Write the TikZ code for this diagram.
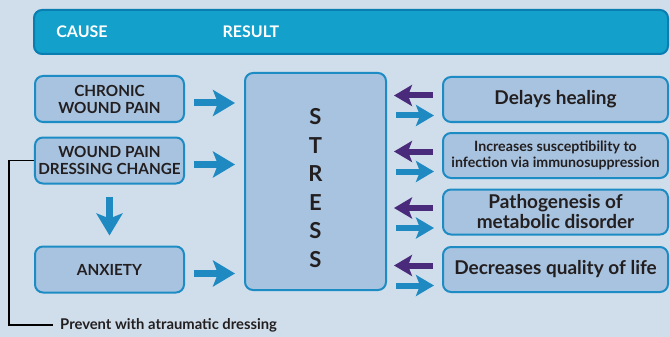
\documentclass[tikz,border=0pt]{standalone}
\usepackage{fontspec}
\setmainfont{Lato}
\usetikzlibrary{arrows.meta,positioning,calc}

\definecolor{bgblue}{HTML}{D0DEEB}
\definecolor{barblue}{HTML}{13A0CB}
\definecolor{barline}{HTML}{0A7DB1}
\definecolor{boxfill}{HTML}{A8C3DF}
\definecolor{boxline}{HTML}{1D8CC4}
\definecolor{arrblue}{HTML}{1E8AC1}
\definecolor{arrpurple}{HTML}{4A2B7B}
\definecolor{txt}{HTML}{231F20}

\tikzset{
  box/.style={draw=boxline,fill=boxfill,line width=2pt,rounded corners=8pt,
    align=center,text=txt,font=\bfseries},
  causebox/.style={box,minimum width=149pt,minimum height=46pt,
    font=\bfseries\fontsize{15.3}{17}\selectfont},
  resultbox/.style={box,minimum width=225pt,minimum height=45pt,
    font=\bfseries\fontsize{19}{20}\selectfont},
  bigarrow/.style={draw=arrblue,line width=7pt,-{Stealth[length=22pt,width=26pt,inset=5pt]}},
  smallarrow/.style={line width=6pt,-{Stealth[length=18pt,width=21pt,inset=4pt]}},
}

\begin{document}
\begin{tikzpicture}[x=1pt,y=-1pt]
\useasboundingbox (0,0) rectangle (670,337);
\fill[bgblue] (0,0) rectangle (670,337);

% header bar
\node[draw=barline,fill=barblue,line width=2pt,rounded corners=8pt,
  minimum width=634pt,minimum height=44pt] (bar) at (351,32) {};
\node[text=white,font=\bfseries\fontsize{16}{18}\selectfont] (cause) at (82,32) {CAUSE};
\node[text=white,font=\bfseries\fontsize{16}{18}\selectfont] (result) at (251,32) {RESULT};

% causes
\node[causebox] (chronic) at (109.5,99) {CHRONIC\\WOUND PAIN};
\node[causebox] (wpain) at (109.5,160.5) {WOUND PAIN\\DRESSING CHANGE};
\node[causebox] (anxiety) at (109.5,269.5) {ANXIETY};

% stress
\node[box,minimum width=141pt,minimum height=217pt] (stress) at (315.5,181.5) {};
\node[text=txt,align=center,font=\bfseries\fontsize{22}{28.5}\selectfont]
  (stresstxt) at (315.5,188) {S\\T\\R\\E\\S\\S};

% results
\node[resultbox] (delay) at (555.5,99.5) {Delays healing};
\node[resultbox,font=\bfseries\fontsize{14.2}{16}\selectfont] (infect) at (555.5,155.5)
  {Increases susceptibility to\\infection via immunosuppression};
\node[resultbox] (patho) at (555.5,212) {Pathogenesis of\\metabolic disorder};
\node[resultbox] (quality) at (555.5,269.5) {Decreases quality of life};

% cause -> stress
\foreach \c in {chronic,wpain,anxiety}
  \draw[bigarrow] ($(\c.east)+(9,4)$) -- ($(stress.west|-\c.east)+(-9,4)$);
\draw[bigarrow] ($(wpain.south)+(0,12)$) -- ($(anxiety.north)+(0,-10)$);

% stress <-> results
\foreach \r in {delay,infect,patho,quality}{
  \draw[smallarrow,arrpurple] ($(\r.west)+(-9,-4)$) -- ($(stress.east|-\r.west)+(7,-4)$);
  \draw[smallarrow,arrblue] ($(stress.east|-\r.west)+(9,16)$) -- ($(\r.west)+(-8,16)$);
}

% prevention loop
\node[anchor=west,inner xsep=7pt,text=txt,font=\bfseries\fontsize{14.8}{16}\selectfont]
  (prevent) at (53,325) {Prevent with atraumatic dressing};
\draw[line width=1.5pt] (wpain.west) -- ++(-25,0) |- (prevent.west);
\end{tikzpicture}
\end{document}
